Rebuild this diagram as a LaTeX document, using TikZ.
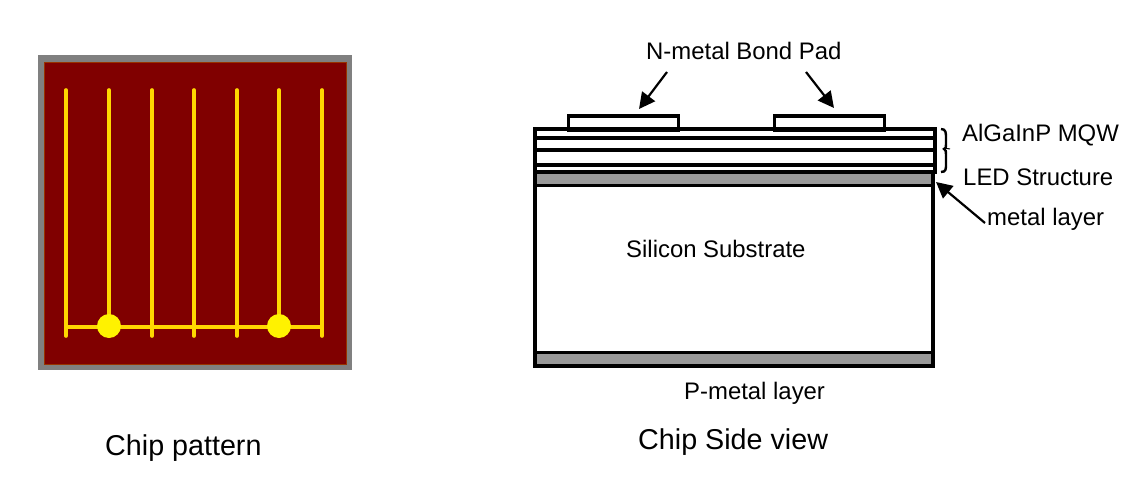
\documentclass[tikz,border=0pt]{standalone}
\usepackage{fontspec}
\setmainfont{Liberation Sans}
\usetikzlibrary{arrows.meta}
\definecolor{chipgray}{RGB}{128,128,128}
\definecolor{chipred}{RGB}{128,0,0}
\definecolor{chipyellow}{RGB}{255,215,0}
\definecolor{layergray}{RGB}{153,153,153}
\tikzset{
  lbl/.style={anchor=base west,inner sep=0pt,font=\fontsize{23.9}{24}\selectfont},
  captiontext/.style={anchor=base west,inner sep=0pt,font=\fontsize{28.7}{29}\selectfont},
  finger/.style={chipyellow,line width=3.6pt,line cap=round},
  bondpad/.style={circle,fill=yellow,inner sep=0pt,minimum size=24pt},
  blackedge/.style={black,line width=3.6pt,line cap=rect},
  layerline/.style={black,line width=3.4pt},
  blackbox/.style={draw=black,line width=3.6pt,inner sep=0pt,anchor=north west},
  pointer/.style={black,line width=2.2pt,-{Triangle[length=16pt,width=16pt]}}
}
\begin{document}
\begin{tikzpicture}[x=1pt,y=-1pt]
\useasboundingbox[fill=white] (0,0) rectangle (1134,492);
% chip pattern
\node[fill=chipgray,inner sep=0pt,minimum width=314pt,minimum height=315pt,anchor=north west] (frame) at (38,55) {};
\node[fill=chipred,draw=chipred!80!yellow,line width=.6pt,inner sep=0pt,minimum width=302pt,minimum height=302pt,anchor=north west] (die) at (44,62) {};
\foreach \x in {66,109,152,194,237,279,322}{
  \draw[finger] (\x,90) -- (\x,336);
}
\draw[finger,line width=4.6pt,line cap=butt] (66,327) -- (322,327);
\node[bondpad] (dotL) at (109,326) {};
\node[bondpad] (dotR) at (279,326) {};
% side view
\fill[layergray] (535,172) rectangle (932,185);
\fill[layergray] (535,353) rectangle (932,366);
\draw[layerline] (535,172) -- (934,172);
\draw[layerline] (536,138) -- (934,138);
\draw[layerline] (534,150) -- (934,150);
\draw[layerline] (533,165) -- (934,165);
\draw[layerline] (535,185.5) -- (933,185.5);
\draw[layerline] (535,352.5) -- (933,352.5);
\draw[blackedge] (535,129) -- (935,129) -- (935,172);
\draw[blackedge] (535,129) -- (535,366) -- (933,366) -- (933,172);
\node[blackbox,minimum width=110pt,minimum height=14pt] (padL) at (566.5,114.5) {};
\node[blackbox,minimum width=110pt,minimum height=14pt] (padR) at (772.5,114.5) {};
% brace
\draw[black,line width=2.4pt] (941,129) .. controls (946,129) and (946,133) .. (946,138) -- (946,144) .. controls (946,147) and (946,149) .. (944,149) .. controls (946,149) and (946,152) .. (946,155) -- (946,164) .. controls (946,169) and (946,172) .. (941,172);
\draw[black,line width=1pt] (944,148) .. controls (946,147) and (948,150) .. (950,149);
% labels
\node[lbl] (nmetal) at (646,60) {N-metal Bond Pad};
\node[lbl] (mqw) at (962,142) {AlGaInP MQW};
\node[lbl] (led) at (963,185) {LED Structure};
\node[lbl] (metal) at (987,225) {metal layer};
\node[lbl] (silicon) at (626,257) {Silicon Substrate};
\node[lbl] (pmetal) at (684,399) {P-metal layer};
\node[captiontext] (pattern) at (105,455) {Chip pattern};
\node[captiontext] (sideview) at (638,449) {Chip Side view};
% connectors
\coordinate (tailL) at (667,72);
\coordinate (headL) at (639,109);
\coordinate (tailR) at (806,72);
\coordinate (headR) at (834,108);
\coordinate (tailM) at (985,223);
\coordinate (headM) at (936,182);
\draw[pointer] (tailL) -- (headL);
\draw[pointer] (tailR) -- (headR);
\draw[pointer] (tailM) -- (headM);
\end{tikzpicture}
\end{document}
